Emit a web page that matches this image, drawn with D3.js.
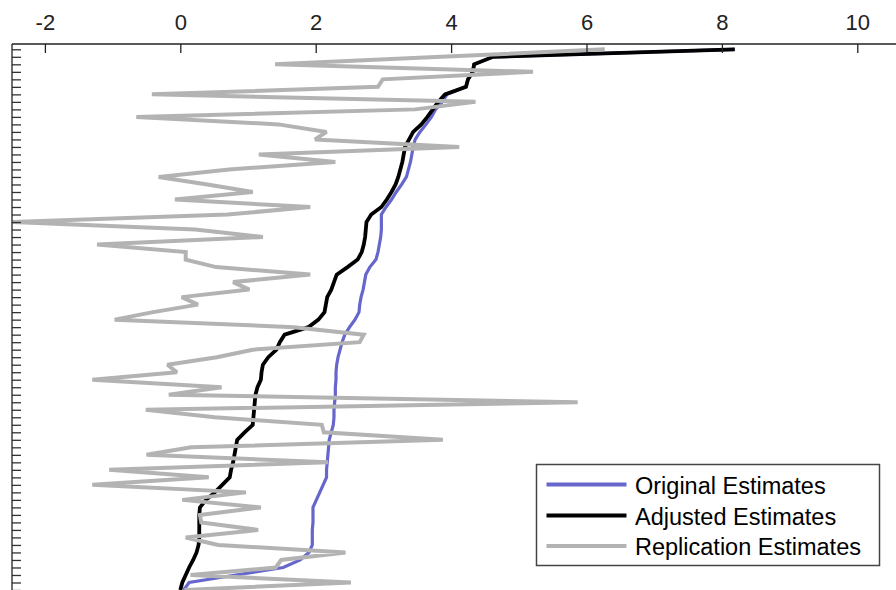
<!DOCTYPE html>
<html>
<head>
<meta charset="utf-8">
<script src="https://cdn.jsdelivr.net/npm/d3@7"></script>
<style>
  html, body { margin: 0; padding: 0; background: #fff; }
  svg { display: block; font-family: "Liberation Sans", Arial, sans-serif; }
</style>
</head>
<body>
<svg id="chart" width="896" height="590"></svg>
<script>
const seriesNames = ["Original Estimates", "Adjusted Estimates", "Replication Estimates"];
const xTickValues = [-2, 0, 2, 4, 6, 8, 10];

const originalEstimates = [
  8.19, 4.62, 4.34, 4.32, 4.25, 4.22, 3.94, 3.87, 3.77, 3.71,
  3.63, 3.54, 3.47, 3.44, 3.42, 3.40, 3.37, 3.34, 3.27, 3.19,
  3.12, 3.04, 2.97, 2.97, 2.97, 2.96, 2.94, 2.92, 2.89, 2.80,
  2.74, 2.72, 2.70, 2.67, 2.65, 2.64, 2.58, 2.50, 2.43, 2.39,
  2.36, 2.33, 2.31, 2.30, 2.30, 2.29, 2.29, 2.28, 2.27, 2.27,
  2.26, 2.23, 2.20, 2.19, 2.18, 2.17, 2.16, 2.16, 2.11, 2.06,
  2.01, 1.96, 1.96, 1.96, 1.95, 1.95, 1.95, 1.90, 1.77, 1.52,
  0.82, 0.13, 0.05
];
const adjustedEstimates = [
  8.19, 4.62, 4.34, 4.32, 4.25, 4.22, 3.91, 3.81, 3.73, 3.65,
  3.56, 3.44, 3.38, 3.32, 3.30, 3.28, 3.25, 3.22, 3.18, 3.12,
  3.05, 2.97, 2.82, 2.75, 2.74, 2.73, 2.71, 2.68, 2.62, 2.47,
  2.31, 2.27, 2.23, 2.17, 2.15, 2.13, 2.04, 1.89, 1.54, 1.47,
  1.42, 1.30, 1.22, 1.20, 1.19, 1.14, 1.11, 1.10, 1.09, 1.08,
  1.07, 0.95, 0.84, 0.82, 0.80, 0.78, 0.75, 0.73, 0.62, 0.51,
  0.38, 0.29, 0.28, 0.28, 0.28, 0.28, 0.27, 0.24, 0.19, 0.13,
  0.08, 0.03, 0.00
];
const replicationEstimates = [
  6.27, 3.85, 1.40, 5.21, 2.99, 2.92, -0.42, 4.36, 3.47, -0.65,
  1.45, 2.16, 1.99, 4.12, 1.16, 2.29, 0.72, -0.32, 0.40, 1.07,
  -0.08, 1.92, 0.70, -2.48, 0.22, 1.22, -1.23, 0.08, 0.08, 0.53,
  1.92, 0.78, 1.02, 0.02, 0.26, -0.40, -0.97, 1.68, 2.71, 2.65,
  1.07, 0.54, -0.19, -0.05, -1.30, 0.61, -0.17, 5.87, -0.51, 0.51,
  2.09, 2.12, 3.88, 0.16, -0.50, 2.18, -1.05, 0.42, -1.30, 0.97,
  0.03, 1.19, 0.29, 0.31, 1.15, 0.08, 0.56, 2.44, 1.49, 1.41,
  0.15, 2.52, 0.06
];

const colors = ["#6666cc", "#000000", "#b3b3b3"];
const widths = [3.2, 3.8, 4];
const allSeries = [originalEstimates, adjustedEstimates, replicationEstimates];

const svg = d3.select("#chart");
const W = 896, H = 590;
svg.append("rect").attr("width", W).attr("height", H).attr("fill", "#fff");

const n = originalEstimates.length;
const x = d3.scaleLinear().domain([-2, 10]).range([44.9, 857.3]);
const y = d3.scaleLinear().domain([0, n - 1]).range([49.3, 590]);

const axisY0 = 44, axisX0 = 12;

const line = (arr) => d3.line()
  .x(d => x(d))
  .y((d, i) => y(i))(arr);

const plot = svg.append("g");
allSeries.forEach((arr, si) => {
  plot.append("path")
    .attr("d", line(arr))
    .attr("fill", "none")
    .attr("stroke", colors[si])
    .attr("stroke-width", widths[si])
    .attr("stroke-linejoin", "miter")
    .attr("stroke-miterlimit", 2);
});

// Top axis
const xAxis = d3.axisTop(x)
  .tickValues(xTickValues)
  .tickSizeInner(-9)
  .tickSizeOuter(0)
  .tickPadding(14)
  .tickFormat(d3.format("d"));
const gx = svg.append("g").attr("transform", `translate(0,${axisY0})`).call(xAxis);
gx.select(".domain").remove();
gx.selectAll(".tick line").attr("stroke", "#222").attr("stroke-width", 1.3);
gx.selectAll(".tick text")
  .attr("font-size", 22)
  .attr("fill", "#222")
  .attr("font-family", "'Liberation Sans', Arial, sans-serif")
  .text(d => d < 0 ? "-" + Math.abs(d) : d);
svg.append("line")
  .attr("x1", axisX0).attr("x2", W)
  .attr("y1", axisY0).attr("y2", axisY0)
  .attr("stroke", "#222").attr("stroke-width", 1.3);

// Left axis
const yAxis = d3.axisRight(y)
  .tickValues(d3.range(0, n))
  .tickSizeInner(9)
  .tickSizeOuter(0)
  .tickFormat("");
const gy = svg.append("g").attr("transform", `translate(${axisX0},0)`).call(yAxis);
gy.select(".domain").remove();
gy.selectAll(".tick line").attr("stroke", "#333").attr("stroke-width", 1.3);
svg.append("line")
  .attr("x1", axisX0).attr("x2", axisX0)
  .attr("y1", axisY0).attr("y2", H)
  .attr("stroke", "#222").attr("stroke-width", 1.3);

// Legend
const legend = svg.append("g");
legend.append("rect")
  .attr("x", 536.5).attr("y", 464.5)
  .attr("width", 343).attr("height", 101)
  .attr("fill", "#fff")
  .attr("stroke", "#444").attr("stroke-width", 1.5);
const legY = [484.5, 515.5, 546];
seriesNames.forEach((name, i) => {
  legend.append("line")
    .attr("x1", 546.5).attr("x2", 626.5)
    .attr("y1", legY[i]).attr("y2", legY[i])
    .attr("stroke", colors[i]).attr("stroke-width", 4);
  legend.append("text")
    .attr("x", 635).attr("y", legY[i] + 9)
    .attr("font-size", 23.5)
    .attr("fill", "#000")
    .text(name);
});
</script>
</body>
</html>
